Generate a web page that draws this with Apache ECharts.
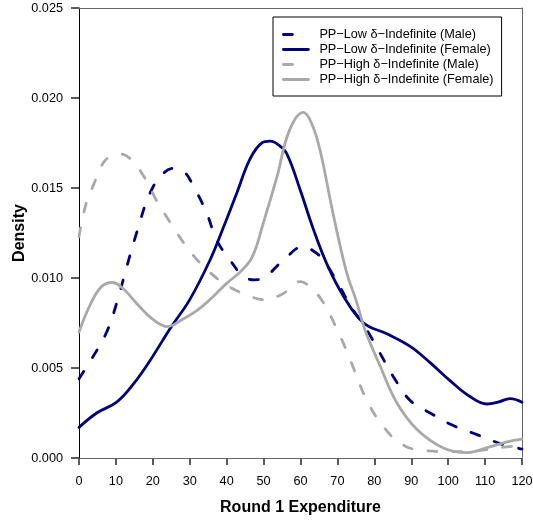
<!DOCTYPE html>
<html>
<head>
<meta charset="utf-8">
<script src="https://cdn.jsdelivr.net/npm/echarts@6/dist/echarts.min.js"></script>
<style>
  html, body { margin: 0; padding: 0; background: #fff; }
  #chart { width: 533px; height: 521px; }
</style>
</head>
<body>
<div id="chart"></div>
<script>
// Kernel density estimates of first-round expenditure, by treatment and gender.
const seriesNames = [
  'PP\u2212Low \u03b4\u2212Indefinite (Male)',
  'PP\u2212Low \u03b4\u2212Indefinite (Female)',
  'PP\u2212High \u03b4\u2212Indefinite (Male)',
  'PP\u2212High \u03b4\u2212Indefinite (Female)'
];

// [expenditure, density]
const lowMale = [
  [0, 0.0044], [4, 0.0057], [7.5, 0.0070], [10.2, 0.0086], [12.9, 0.0106],
  [15.6, 0.0125], [19.2, 0.0147], [22.8, 0.0158], [26, 0.0161], [28.5, 0.0159],
  [31, 0.0151], [34.6, 0.0136], [37.3, 0.0121], [40.9, 0.0110], [44.5, 0.0101],
  [47.5, 0.0099], [50, 0.0100], [55.4, 0.0110], [60.8, 0.01175], [63.5, 0.0115],
  [66.2, 0.0110], [70.7, 0.0095], [73.4, 0.0085], [78, 0.0071], [81.6, 0.0058],
  [85.2, 0.0045], [89.7, 0.0032], [95.1, 0.0025], [101.4, 0.0018], [107.8, 0.0013],
  [114.1, 0.0008], [120, 0.0005]
];

const lowFemale = [
  [0, 0.0017], [4.8, 0.0025], [10.2, 0.0031], [14.7, 0.0041], [19.2, 0.0054],
  [24.7, 0.0072], [30, 0.0088], [35.5, 0.0110], [39.1, 0.0128], [42.7, 0.0147],
  [46.3, 0.0166], [49.5, 0.0175], [51.8, 0.0176], [54, 0.0174], [56.3, 0.0169],
  [59.9, 0.0149], [63.5, 0.0127], [67.1, 0.0108], [71.6, 0.0090], [77.1, 0.0075],
  [83.4, 0.0069], [89.7, 0.0062], [95.1, 0.0053], [100.5, 0.0043], [106, 0.0034],
  [110.5, 0.0030], [113.5, 0.0031], [116.8, 0.0033], [120, 0.0031]
];

const highMale = [
  [0, 0.0123], [2, 0.0142], [4, 0.0152], [6, 0.0162], [8, 0.0167], [11, 0.0169],
  [14, 0.0166], [18, 0.0155], [21, 0.0143], [25, 0.0130], [30, 0.0115],
  [35, 0.0104], [40, 0.0096], [45, 0.0091], [50, 0.0088], [55, 0.0091],
  [60, 0.0098], [63, 0.0094], [66, 0.0087], [70, 0.0071], [73, 0.0057],
  [78, 0.0032], [83, 0.0016], [88, 0.0007], [94, 0.0004], [101, 0.00035],
  [108, 0.0004], [115, 0.0006], [120, 0.0007]
];

const highFemale = [
  [0, 0.0070], [3, 0.0085], [6, 0.0095], [9, 0.00975], [12, 0.0094], [16, 0.0085],
  [20, 0.0077], [24, 0.0073], [28, 0.0077], [32, 0.0082], [36, 0.0089],
  [40, 0.0097], [44, 0.0104], [47, 0.0112], [50, 0.0131], [53.6, 0.0156],
  [57, 0.0182], [60.8, 0.0192], [63, 0.0186], [65.3, 0.0171], [68.8, 0.0136],
  [72.5, 0.0103], [75, 0.0088], [77.5, 0.0071], [81.6, 0.0051], [86, 0.0031],
  [91.5, 0.0016], [98.7, 0.00056], [105, 0.0003], [111, 0.0006], [116, 0.0009],
  [120, 0.00105]
];

const xMin = 0, xMax = 120, xStep = 10;
const yMin = 0, yMax = 0.025, yStep = 0.005;

const navy = '#00007f';
const grey = '#a9a9a9';
const dash = [9, 16];
const legendDash = [9, 40];
const lineW = 2.8;
const frameColor = '#666666';
const tickColor = '#555555';
const tickW = 1.6;

function makeSeries(name, data, color, dashed) {
  return {
    name: name,
    type: 'line',
    data: data,
    smooth: 0.4,
    symbol: 'none',
    animation: false,
    lineStyle: { color: color, width: lineW, type: dashed ? dash : 'solid', cap: 'round' },
    itemStyle: { color: color }
  };
}

function legendEntry(name, color, dashed) {
  return {
    name: name,
    itemStyle: { opacity: 0 },
    lineStyle: { color: color, width: lineW, type: dashed ? legendDash : 'solid', cap: 'round', opacity: 1 }
  };
}

const chart = echarts.init(document.getElementById('chart'));

const font = 'Liberation Sans, Arial, Helvetica, sans-serif';

// Plain outline for the top and right sides of the plot box
function frameAxis(extra) {
  return Object.assign({
    type: 'value',
    axisLine: { show: true, onZero: false, lineStyle: { color: frameColor, width: 1 } },
    axisTick: { show: false },
    axisLabel: { show: false },
    splitLine: { show: false }
  }, extra);
}

// Outward tick marks: an unlabeled axis shifted outside the box, ticking inward
function tickAxis(extra, len) {
  return Object.assign({
    type: 'value',
    offset: len,
    axisLine: { show: false, onZero: false },
    axisTick: { show: true, inside: true, length: len, lineStyle: { color: tickColor, width: tickW } },
    axisLabel: { show: false },
    splitLine: { show: false }
  }, extra);
}

chart.setOption({
  backgroundColor: '#fff',
  textStyle: { fontFamily: font },
  grid: {
    left: 79, right: 11, top: 8, bottom: 63,
    containLabel: false,
    outerBoundsMode: 'none'
  },
  legend: {
    orient: 'vertical',
    left: 273, top: 17,
    padding: [11, 8, 10, 9],
    itemWidth: 25, itemHeight: 14, itemGap: 2,
    borderColor: '#000', borderWidth: 1,
    textStyle: { fontSize: 12.7, color: '#000', fontFamily: font, padding: [0, 0, 0, 6] },
    data: [
      legendEntry(seriesNames[0], navy, true),
      legendEntry(seriesNames[1], navy, false),
      legendEntry(seriesNames[2], grey, true),
      legendEntry(seriesNames[3], grey, false)
    ]
  },
  xAxis: [{
    type: 'value',
    position: 'bottom',
    min: xMin, max: xMax, interval: xStep,
    name: 'Round 1 Expenditure',
    nameLocation: 'middle',
    nameGap: 42,
    nameTextStyle: { fontSize: 16, fontWeight: 'bold', color: '#000', fontFamily: font },
    axisLine: { show: true, onZero: false, lineStyle: { color: frameColor, width: 1 } },
    axisTick: { show: true, length: 7, lineStyle: { color: tickColor, width: tickW } },
    axisLabel: { fontSize: 12.7, color: '#000', margin: 17, fontFamily: font },
    splitLine: { show: false }
  },
  frameAxis({ position: 'top', min: xMin, max: xMax, interval: xStep }),
  tickAxis({ position: 'bottom', min: xMin, max: xMax, interval: xStep }, 7)],
  yAxis: [{
    type: 'value',
    position: 'left',
    min: yMin, max: yMax, interval: yStep,
    name: 'Density',
    nameLocation: 'middle',
    nameGap: 51,
    nameMoveOverlap: false,
    nameTextStyle: { fontSize: 16, fontWeight: 'bold', color: '#000', fontFamily: font },
    axisLine: { show: true, onZero: false, lineStyle: { color: '#000', width: 1 } },
    axisTick: { show: true, length: 8, lineStyle: { color: tickColor, width: tickW } },
    axisLabel: {
      fontSize: 12.7, color: '#000', margin: 16, fontFamily: font,
      formatter: function (v) { return v.toFixed(3); }
    },
    splitLine: { show: false }
  },
  frameAxis({ position: 'right', min: yMin, max: yMax, interval: yStep }),
  tickAxis({ position: 'left', min: yMin, max: yMax, interval: yStep }, 8)],
  series: [
    makeSeries(seriesNames[0], lowMale, navy, true),
    makeSeries(seriesNames[1], lowFemale, navy, false),
    makeSeries(seriesNames[2], highMale, grey, true),
    makeSeries(seriesNames[3], highFemale, grey, false)
  ]
});
</script>
</body>
</html>
